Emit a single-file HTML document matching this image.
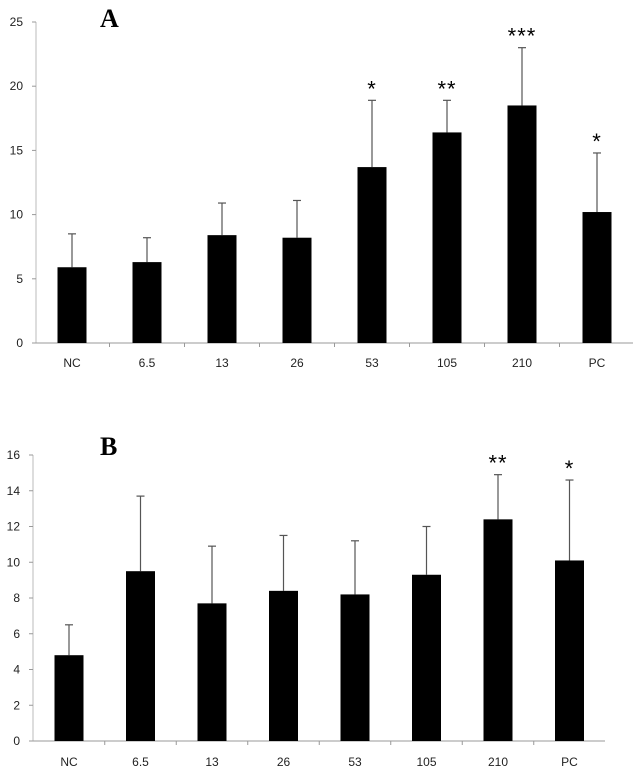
<!DOCTYPE html>
<html><head><meta charset="utf-8"><style>
html,body{margin:0;padding:0;background:#fff;}
svg{display:block;font-family:"Liberation Sans",sans-serif;}
</style></head><body>
<svg id="chart" width="633" height="770"></svg>
<script>
const categories=["NC","6.5","13","26","53","105","210","PC"];
const valuesA=[5.9,6.3,8.4,8.2,13.7,16.4,18.5,10.2];
const errorsA=[8.5,8.2,10.9,11.1,18.9,18.9,23.0,14.8];
const starsA=["","","","","*","**","***","*"];
const ticksA=[0,5,10,15,20,25];
const valuesB=[4.8,9.5,7.7,8.4,8.2,9.3,12.4,10.1];
const errorsB=[6.5,13.7,10.9,11.5,11.2,12.0,14.9,14.6];
const starsB=["","","","","","","**","*"];
const ticksB=[0,2,4,6,8,10,12,14,16];

const svg=document.getElementById('chart');
const NS="http://www.w3.org/2000/svg";
function mk(tag,attrs,parent){const e=document.createElementNS(NS,tag);for(const k in attrs)e.setAttribute(k,attrs[k]);(parent||svg).appendChild(e);return e;}

function panel(id,letter,letterY,vals,errs,stars,ticks,y0,yTop,maxV,labelY,x0,step,axX,axEnd){
  const g=mk('g',{});
  
  
  const yS=v=>y0-(v/maxV)*(y0-yTop);
  const xC=i=>x0+i*step;
  const bw=29;
  const L=mk('text',{x:100,y:letterY,'font-size':26,'font-weight':'bold','font-family':'Liberation Serif,serif'},g);
  L.textContent=letter;
  
  
  const ax=mk('line',{x1:axX,y1:yTop,x2:axX,y2:y0,stroke:'#bbb','stroke-width':1},g);
  
  
  const xa=mk('line',{x1:axX-1,y1:y0,x2:axEnd,y2:y0,stroke:'#999','stroke-width':1},g);
  
  
  ticks.forEach(t=>{
    const y=yS(t);
    const tk=mk('line',{x1:axX-4,y1:y,x2:axX,y2:y,stroke:'#999'},g);
    
    
    const tl=mk('text',{x:axX-13,y:y+4,'font-size':12,'text-anchor':'end',fill:'#222'},g);
    tl.textContent=t;
    
    
  });
  categories.forEach((c,i)=>{
    const cx=xC(i);
    if(i>0){const tk=mk('line',{x1:cx-step/2,y1:y0,x2:cx-step/2,y2:y0+4,stroke:'#999'},g);
      
      }
    const eb=mk('line',{x1:cx,y1:yS(errs[i]),x2:cx,y2:yS(vals[i]),stroke:'#555','stroke-width':1.2},g);
    
    
    const cap=mk('line',{x1:cx-4,y1:yS(errs[i]),x2:cx+4,y2:yS(errs[i]),stroke:'#555','stroke-width':1.2},g);
    
    
    const b=mk('rect',{x:cx-bw/2,y:yS(vals[i]),width:bw,height:y0-yS(vals[i]),fill:'#000'},g);
    
    
    if(stars[i]){const s=mk('text',{x:cx,y:yS(errs[i])-4,'font-size':22,'text-anchor':'middle','letter-spacing':'1'},g);
      s.textContent=stars[i];
      
      }
    const xl=mk('text',{x:cx,y:labelY,'font-size':12,'text-anchor':'middle',fill:'#222'},g);
    xl.textContent=c;
    
    
  });
}
panel('a','A',27,valuesA,errorsA,starsA,ticksA,343,22,25,367,72,75,36,633);
panel('b','B',455,valuesB,errorsB,starsB,ticksB,741,455,16,766,69,71.5,33,605);
</script>
</body></html>
